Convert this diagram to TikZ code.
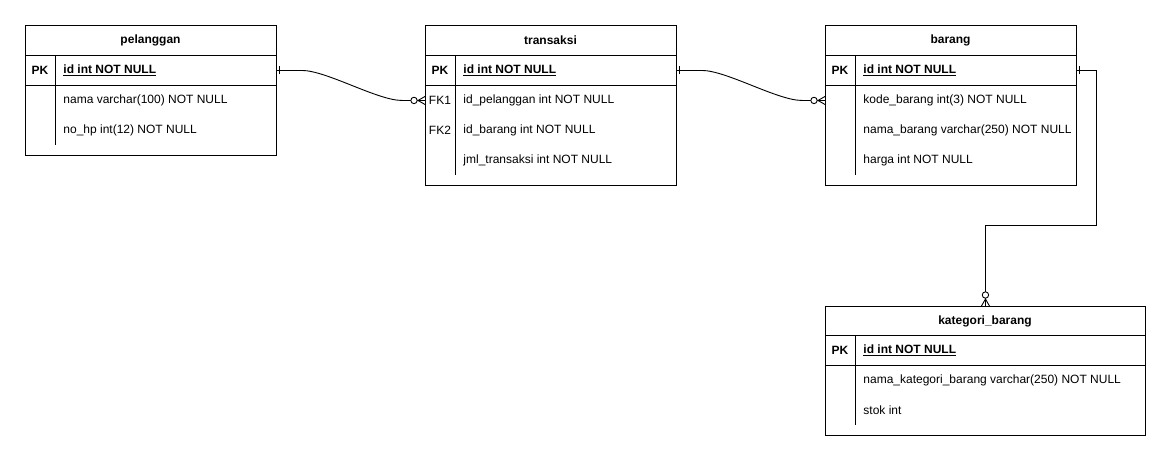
\documentclass[tikz,border=0pt]{standalone}
\usepackage{fontspec}
\setmainfont{Liberation Sans}
\usetikzlibrary{positioning,decorations.markings}
\def\tblfont{\fontsize{12}{14}\selectfont}
\tikzset{
     tbl/.style={draw, rectangle, inner sep=0pt, anchor=north west},
     head/.style={font=\tblfont\bfseries},
     rowbox/.style={rectangle, inner sep=0pt, anchor=north west, minimum height=30},
     key/.style={anchor=center, font=\tblfont},
     pkey/.style={key, font=\tblfont\bfseries},
     fld/.style={anchor=west, inner sep=0pt, font=\tblfont},
     pfld/.style={fld, font=\tblfont\bfseries},
     rel/.style={line width=0.9pt, postaction={decorate}},
     bothends/.style={decoration={markings,
         mark=at position 3pt with {\draw[line width=0.9pt] (0,-4pt) -- (0,4pt);},
         mark=at position 1 with {
         \draw[line width=0.9pt] (-7pt,0) -- (0,4pt) (-7pt,0) -- (0,-4pt);
         \draw[line width=0.9pt, fill=white] (-11pt,0) circle (3.2pt);}}},
}
\def\ux{1pt}
\def\uy{-1pt}

\begin{document}
\begin{tikzpicture}[x=\ux,y=\uy, line width=0.9pt]
		\useasboundingbox (0,0) rectangle (1171,461);

		% pelanggan
		\node[tbl, minimum width=251, minimum height=130] (pel) at (25,25) {};
		\node[head] (pelname) at (150.5,40) {pelanggan};
		\node[rowbox, minimum width=251] (pelpk) at (25,55) {};
		\draw (25,55) -- (276,55) (25,85) -- (276,85) (55,55) -- (55,145);
		\node[pkey] (pelpkl) at (40,70) {PK};
		\node[pfld] (pelid) at (63,70) {\underline{id int NOT NULL}};
		\node[fld] (pelnama) at (63,100) {nama varchar(100) NOT NULL};
		\node[fld] (pelhp) at (63,130) {no\_hp int(12) NOT NULL};

		% transaksi
		\node[tbl, minimum width=251, minimum height=160] (trx) at (425,25) {};
		\node[head] (trxname) at (550.5,40) {transaksi};
		\node[rowbox, minimum width=251] (trxpk) at (425,55) {};
		\node[rowbox, minimum width=251] (trxfk1) at (425,85) {};
		\draw (425,55) -- (676,55) (425,85) -- (676,85) (455,55) -- (455,175);
		\node[pkey] (trxpkl) at (440,70) {PK};
		\node[pfld] (trxid) at (463,70) {\underline{id int NOT NULL}};
		\node[key] (trxfk1l) at (440,100) {FK1};
		\node[fld] (trxpel) at (463,100) {id\_pelanggan int NOT NULL};
		\node[key] (trxfk2l) at (440,130) {FK2};
		\node[fld] (trxbrg) at (463,130) {id\_barang int NOT NULL};
		\node[fld] (trxjml) at (463,160) {jml\_transaksi int NOT NULL};

		% barang
		\node[tbl, minimum width=251, minimum height=160] (brg) at (825,25) {};
		\node[head] (brgname) at (950.5,40) {barang};
		\node[rowbox, minimum width=251] (brgpk) at (825,55) {};
		\node[rowbox, minimum width=251] (brgf1) at (825,85) {};
		\draw (825,55) -- (1076,55) (825,85) -- (1076,85) (855,55) -- (855,175);
		\node[pkey] (brgpkl) at (840,70) {PK};
		\node[pfld] (brgid) at (863,70) {\underline{id int NOT NULL}};
		\node[fld] (brgkode) at (863,100) {kode\_barang int(3) NOT NULL};
		\node[fld] (brgnama) at (863,130) {nama\_barang varchar(250) NOT NULL};
		\node[fld] (brgharga) at (863,160) {harga int NOT NULL};

		% kategori_barang
		\node[tbl, minimum width=320, minimum height=129] (kat) at (825,306) {};
		\node[head] (katname) at (985,321) {kategori\_barang};
		\draw (825,335) -- (1145,335) (825,365) -- (1145,365) (855,335) -- (855,425);
		\node[pkey] (katpkl) at (840,350) {PK};
		\node[pfld] (katid) at (863,350) {\underline{id int NOT NULL}};
		\node[fld] (katnama) at (863,380) {nama\_kategori\_barang varchar(250) NOT NULL};
		\node[fld] (katstok) at (863,410) {stok int};

		% relasi
		\draw[rel, bothends] (pelpk.east) -- ++(25,0) to[out=0,in=180,looseness=0.6] ++(100,30) -- (trxfk1.west);
		\draw[rel, bothends] (trxpk.east) -- ++(25,0) to[out=0,in=180,looseness=0.6] ++(100,30) -- (brgf1.west);
		\draw[rel, bothends] (brgpk.east) -| (1096,225) -| (kat.north);
\end{tikzpicture}
\end{document}
